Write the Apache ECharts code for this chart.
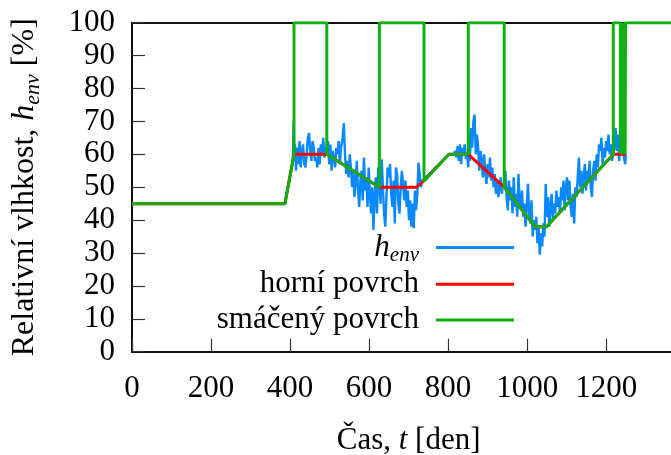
<!DOCTYPE html>
<html>
<head>
<meta charset="utf-8">
<script src="https://cdn.jsdelivr.net/npm/echarts@6/dist/echarts.min.js"></script>
<style>
html,body{margin:0;padding:0;background:#fff;}
#c{width:671px;height:455px;}
</style>
</head>
<body>
<div id="c"></div>
<script>
// ---- data ----
const xTicks = [0, 200, 400, 600, 800, 1000, 1200];
const yTicks = [0, 10, 20, 30, 40, 50, 60, 70, 80, 90, 100];

// h_env (ambient relative humidity)
const envDays = [0, 387, 407,
  409, 411, 413, 415, 418, 421, 424, 427, 430, 433, 436, 439, 442, 445, 448, 451, 454, 457, 460, 463, 466, 469, 472, 475, 478, 481, 484, 487, 490, 493,
  496, 499, 502, 505, 508, 511, 514, 517, 520, 523, 526, 529, 533, 536, 539, 542, 545, 548, 551, 554, 557, 560, 563, 566, 569, 572, 575, 578, 581, 584, 587, 590, 593, 596, 599, 602, 605, 608, 611, 614, 617, 620, 623, 626,
  629, 632, 635, 638, 641, 644, 647, 650, 653, 656, 659, 662, 665, 668, 671, 674, 677, 680, 683, 686, 689, 692, 695, 698, 701, 704, 707, 710, 713, 716, 719, 722, 725, 728, 731, 735, 739,
  802, 815, 818, 821, 824, 827, 830, 833, 836, 839, 842, 845, 848, 851,
  852, 855, 858, 861, 864, 867, 870, 873, 876, 879, 882, 885, 888, 891, 894, 897, 900, 903, 906, 909, 912, 915, 918, 921, 924, 927, 930, 933, 936, 939, 942,
  945, 948, 951, 954, 957, 960, 963, 966, 969, 972, 975, 978, 981, 984, 987, 990, 993, 996, 999, 1002, 1005, 1008, 1011, 1014, 1017, 1020, 1023, 1026, 1029, 1032, 1035, 1038, 1041, 1044, 1047, 1050,
  1053, 1056, 1059, 1062, 1065, 1068, 1071, 1074, 1077, 1080, 1083, 1086, 1089, 1092, 1095, 1098, 1101, 1104, 1107, 1110, 1113, 1116, 1119, 1122, 1125, 1128, 1131, 1134, 1137, 1140, 1143, 1146, 1149, 1152, 1155, 1158, 1161, 1164, 1167, 1170, 1173, 1176, 1179, 1182, 1185, 1188, 1191, 1194, 1197, 1200, 1203, 1206, 1209, 1212, 1215, 1218, 1221, 1224, 1227, 1230, 1233, 1236, 1239, 1242, 1245, 1248, 1250];
const envValues = [45, 45, 58,
  70, 58, 63, 55, 62, 57, 64, 56, 61, 63, 57, 56, 60, 65, 66.5, 61, 58, 64, 62, 58, 59, 56, 62, 57, 63, 60, 65, 59, 62, 60,
  64, 57, 63, 55, 61, 59, 56, 62, 60, 64, 57, 62, 65, 69.5, 60, 54, 58, 53, 60, 56, 50, 55, 47, 52, 58, 49, 44, 52, 55, 46, 59, 49, 53, 44, 56, 48, 42, 50, 37, 47, 53, 42, 56, 52,
  45, 58.5, 50, 42, 38, 47, 56, 53, 57, 48, 44, 52, 39, 56, 54, 45, 42, 50, 55, 51, 46, 52, 44, 49, 40, 46, 38, 45, 37.5, 49, 43, 48, 57.5, 54, 50, 52, 51.8,
  60, 60, 61, 59, 62.5, 58, 63, 57, 62, 60, 63, 58.5, 60, 56,
  66, 58, 68, 62, 70, 72, 60, 66, 62, 55, 61, 58, 53, 60, 55, 51, 57, 53, 59, 52, 56, 50, 54, 48, 52, 47, 50, 53, 48, 51, 50,
  55, 47, 43, 52, 46, 50, 42, 53, 44, 48, 41, 54, 46, 43, 49, 41, 45, 38, 44, 51, 42, 39, 46, 35, 40, 37, 41, 33, 38, 29.5, 36, 32, 39, 35, 51, 41,
  47, 38, 44, 48, 40, 45, 42, 49, 44, 47, 42, 50, 46, 52, 43, 50, 53, 46, 52, 44, 41, 48, 39, 50, 47, 53, 59, 50, 55, 48, 53, 57, 49, 55, 52, 58, 50, 47, 55, 58, 52, 60, 56, 63, 61, 65, 57, 62, 59, 64, 61, 66, 60, 63, 58, 61, 62, 68, 61, 66, 58, 64, 60, 67, 59, 57, 60];

// horní povrch (top surface)
const topDays = [0, 387, 410, 493, 626, 720, 737, 802, 851, 942, 1020, 1049, 1218, 1250];
const topValues = [45, 45, 60, 60, 50, 50, 51.8, 60, 60, 50, 38, 38, 60, 60];

// smáčený povrch (wetted surface)
const wetDays = [0, 387, 410, 410, 493, 493, 626, 626, 739, 739, 802, 851, 851, 942, 942, 1020, 1049, 1218, 1218, 1236,
  1236, 1237, 1237, 1238, 1238, 1239, 1239, 1240, 1240, 1241, 1241, 1242, 1242, 1243, 1243, 1244, 1244, 1245, 1245, 1246, 1246, 1247, 1247, 1248, 1248, 1249, 1249, 1250, 1250, 1400];
const wetValues = [45, 45, 60, 100, 100, 60, 50, 100, 100, 51.8, 60, 60, 100, 100, 50, 38, 38, 60, 100, 100,
  60, 60, 100, 100, 60, 60, 100, 100, 60, 60, 100, 100, 60, 60, 100, 100, 60, 60, 100, 100, 60, 60, 100, 100, 60, 60, 100, 100, 100, 100];

const pairs = (xs, ys) => xs.map((x, i) => [x, ys[i]]);

// ---- chart ----
const FONT = '"Liberation Serif", "Times New Roman", serif';
const FS = 31;
const chart = echarts.init(document.getElementById('c'), null, {renderer: 'canvas'});

const legendBase = {
  orient: 'vertical', align: 'right', right: 157, padding: 0,
  icon: 'rect', itemWidth: 78, itemHeight: 3,
  selectedMode: false,
  textStyle: {
    fontFamily: FONT, fontSize: FS, color: '#000', padding: [0, 12, 0, 0],
    rich: {
      i: {fontFamily: FONT, fontSize: FS, fontStyle: 'italic', color: '#000'},
      s: {fontFamily: FONT, fontSize: 21, fontStyle: 'italic', color: '#000', padding: [16, 0, 0, 0]}
    }
  },
  formatter: n => n === 'henv' ? '{i|h}{s|env}' : n
};

chart.setOption({
  animation: false,
  backgroundColor: '#fff',
  grid: {left: 132, right: -14.2, top: 22.7, bottom: 103.3, outerBoundsMode: 'none', containLabel: false},
  legend: [
    Object.assign({}, legendBase, {data: ['henv'], top: 232}),
    Object.assign({}, legendBase, {data: ['horní povrch'], top: 268.8}),
    Object.assign({}, legendBase, {data: ['smáčený povrch'], top: 304.5})
  ],
  xAxis: [{
    type: 'value', min: 0, max: 1400, interval: 200, position: 'bottom',
    name: '{n|Čas, }{i|t}{n| [den]}', nameLocation: 'middle', nameGap: 74,
    nameTextStyle: {
      fontFamily: FONT, fontSize: FS, color: '#000',
      rich: {
        n: {fontFamily: FONT, fontSize: FS, color: '#000'},
        i: {fontFamily: FONT, fontSize: FS, fontStyle: 'italic', color: '#000'}
      }
    },
    axisLine: {show: true, onZero: false, lineStyle: {color: '#111', width: 2}},
    axisTick: {show: true, inside: true, length: 13, lineStyle: {color: '#333', width: 1.2}},
    axisLabel: {show: true, margin: 22, fontFamily: FONT, fontSize: FS, color: '#000', showMaxLabel: false,
      formatter: v => String(v)},
    splitLine: {show: false}
  }, {
    type: 'value', min: 0, max: 1400, position: 'top',
    axisLine: {show: true, onZero: false, lineStyle: {color: '#111', width: 2}},
    axisTick: {show: false}, axisLabel: {show: false}, splitLine: {show: false}
  }],
  yAxis: {
    type: 'value', min: 0, max: 100, interval: 10,
    name: '{n|Relativní vlhkost, }{i|h}{s|env}{n| [%]}', nameLocation: 'middle', nameGap: 88,
    nameTextStyle: {
      fontFamily: FONT, fontSize: 32, color: '#000',
      rich: {
        n: {fontFamily: FONT, fontSize: 32, color: '#000'},
        i: {fontFamily: FONT, fontSize: 32, fontStyle: 'italic', color: '#000'},
        s: {fontFamily: FONT, fontSize: 22, fontStyle: 'italic', color: '#000', padding: [16, 0, 0, 0]}
      }
    },
    axisLine: {show: true, onZero: false, lineStyle: {color: '#111', width: 2}},
    axisTick: {show: true, inside: true, length: 13, lineStyle: {color: '#333', width: 1.2}},
    axisLabel: {show: true, margin: 17, fontFamily: FONT, fontSize: FS, color: '#000'},
    splitLine: {show: false}
  },
  series: [
    {name: 'henv', type: 'line', symbol: 'none', data: pairs(envDays, envValues),
     itemStyle: {color: '#0a88ff'}, lineStyle: {color: '#0a88ff', width: 2.4}, z: 2},
    {name: 'horní povrch', type: 'line', symbol: 'none', data: pairs(topDays, topValues),
     itemStyle: {color: '#ff0000'}, lineStyle: {color: '#ff0000', width: 3}, z: 3},
    {name: 'smáčený povrch', type: 'line', symbol: 'none', data: pairs(wetDays, wetValues),
     itemStyle: {color: '#10b010'}, lineStyle: {color: '#10b010', width: 3}, z: 4}
  ]
});
</script>
</body>
</html>
